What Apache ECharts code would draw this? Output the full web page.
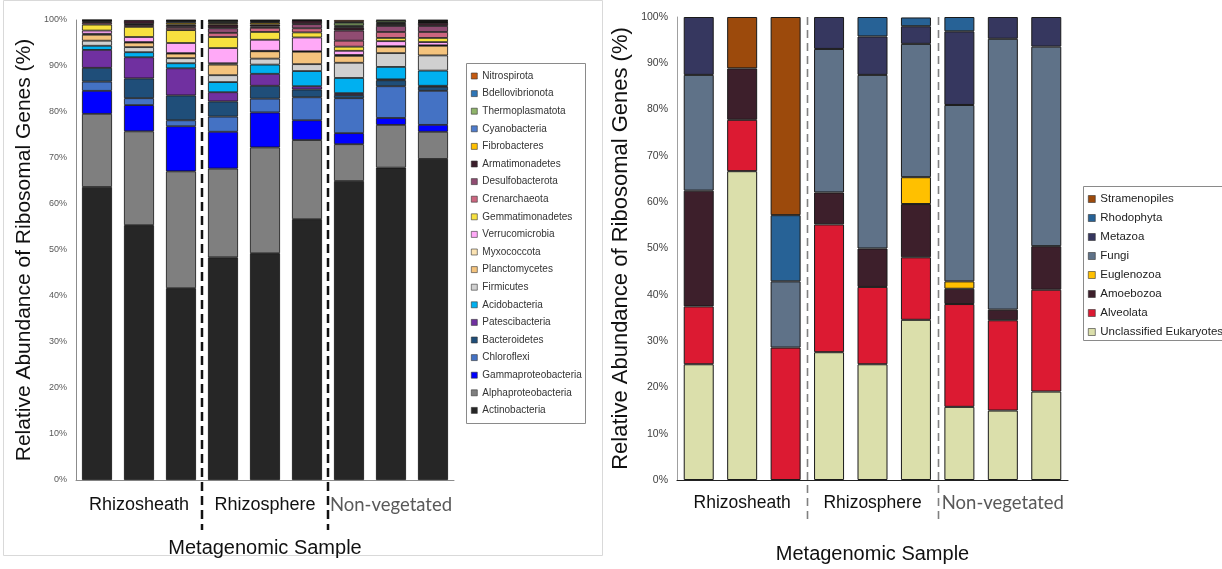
<!DOCTYPE html>
<html><head><meta charset="utf-8">
<script src="https://cdn.jsdelivr.net/npm/echarts@6/dist/echarts.min.js"></script>
<style>html,body{margin:0;padding:0;background:#fff}#c{width:1222px;height:569px}</style>
</head><body><div id="c"></div>
<script>
// ---------- DATA ----------
const categories = ['RS-1','RS-2','RS-3','RP-1','RP-2','RP-3','NV-1','NV-2','NV-3'];
const groupLabels = ['Rhizosheath','Rhizosphere','Non-vegetated'];
const yTickFormat = '{value}%';

// Bacteria / archaea (left panel), stacked bottom -> top
const bacteriaNames = ['Actinobacteria','Alphaproteobacteria','Gammaproteobacteria','Chloroflexi','Bacteroidetes','Patescibacteria','Acidobacteria','Firmicutes','Planctomycetes','Myxococcota','Verrucomicrobia','Gemmatimonadetes','Crenarchaeota','Desulfobacterota','Armatimonadetes','Fibrobacteres','Cyanobacteria','Thermoplasmatota','Bdellovibrionota','Nitrospirota'];
const actinobacteria      = [63.7, 55.4, 41.7, 48.4, 49.3, 56.7, 65.0, 67.9, 69.8];
const alphaproteobacteria = [15.9, 20.4, 25.4, 19.3, 23.0, 17.2, 8.0, 9.3, 5.9];
const gammaproteobacteria = [5.0, 5.7, 9.8, 8.0, 7.6, 4.3, 2.4, 1.5, 1.5];
const chloroflexi         = [2.0, 1.5, 1.3, 3.3, 3.0, 5.0, 7.6, 6.9, 7.4];
const bacteroidetes       = [3.0, 4.3, 5.4, 3.3, 2.8, 1.7, 0.7, 1.3, 0.9];
const patescibacteria     = [3.9, 4.6, 5.9, 2.0, 2.6, 0.7, 0.4, 0.2, 0.2];
const acidobacteria       = [0.9, 1.1, 1.1, 2.2, 2.0, 3.3, 3.3, 2.7, 3.3];
const firmicutes          = [1.1, 1.1, 1.1, 1.5, 1.3, 1.5, 3.3, 3.0, 3.3];
const planctomycetes      = [1.3, 1.0, 1.0, 2.3, 1.6, 2.7, 1.5, 1.4, 2.1];
const myxococcota         = [0.2, 0.1, 0.1, 0.3, 0.1, 0.1, 0.2, 0.1, 0.1];
const verrucomicrobia     = [0.7, 1.1, 2.2, 3.3, 2.4, 3.0, 0.9, 1.1, 0.7];
const gemmatimonadetes    = [1.3, 2.2, 2.8, 2.4, 1.7, 1.1, 0.9, 0.7, 0.9];
const crenarchaeota       = [0.4, 0.4, 0.5, 0.9, 0.9, 0.9, 1.3, 1.3, 1.3];
const desulfobacterota    = [0.2, 0.2, 0.4, 1.0, 0.3, 0.9, 2.2, 1.3, 1.3];
const armatimonadetes     = [0.3, 0.9, 0.3, 0.8, 0.4, 0.8, 0.7, 0.4, 0.7];
const fibrobacteres       = [0.05, 0, 0.4, 0.3, 0.4, 0.05, 0.2, 0.2, 0.1];
const cyanobacteria       = [0.05, 0, 0.3, 0.2, 0.2, 0.05, 0.2, 0.2, 0.1];
const thermoplasmatota    = [0, 0, 0.1, 0.3, 0.2, 0, 0.6, 0.4, 0.2];
const bdellovibrionota    = [0, 0, 0.1, 0.1, 0.1, 0, 0.2, 0.1, 0.1];
const nitrospirota        = [0, 0, 0.1, 0.1, 0.1, 0, 0.4, 0.1, 0.1];
const bacteriaValues = [actinobacteria, alphaproteobacteria, gammaproteobacteria, chloroflexi, bacteroidetes, patescibacteria, acidobacteria, firmicutes, planctomycetes, myxococcota, verrucomicrobia, gemmatimonadetes, crenarchaeota, desulfobacterota, armatimonadetes, fibrobacteres, cyanobacteria, thermoplasmatota, bdellovibrionota, nitrospirota];

// Eukaryotes (right panel), stacked bottom -> top
const eukNames = ['Unclassified Eukaryotes','Alveolata','Amoebozoa','Euglenozoa','Fungi','Metazoa','Rhodophyta','Stramenopiles'];
const unclassified  = [25.0, 66.7, 0, 27.6, 25.0, 34.6, 15.8, 15.0, 19.1];
const alveolata     = [12.5, 11.1, 28.6, 27.6, 16.7, 13.5, 22.2, 19.5, 22.0];
const amoebozoa     = [25.0, 11.1, 0, 6.9, 8.3, 11.5, 3.3, 2.3, 9.4];
const euglenozoa    = [0, 0, 0, 0, 0, 5.8, 1.6, 0, 0];
const fungi         = [25.0, 0, 14.3, 31.0, 37.5, 28.8, 38.1, 58.5, 43.1];
const metazoa       = [12.5, 0, 0, 6.9, 8.3, 3.8, 15.9, 4.7, 6.4];
const rhodophyta    = [0, 0, 14.3, 0, 4.2, 1.9, 3.1, 0, 0];
const stramenopiles = [0, 11.1, 42.8, 0, 0, 0, 0, 0, 0];
const eukValues = [unclassified, alveolata, amoebozoa, euglenozoa, fungi, metazoa, rhodophyta, stramenopiles];

// ---------- STYLE ----------
const bacteriaColors = ['#262626','#7f7f7f','#0000ff','#4472c4','#1f4e79','#7030a0','#00b0f0','#d0d0d0','#f4c37d','#fbe3b3','#ffa9f7','#f7e13f','#cc6680','#904c72','#3b1e2b','#ffc000','#4f7ccc','#8fb46a','#2e75b6','#c55a11'];
const eukColors = ['#dbdfab','#dc1a32','#3d1f2b','#ffc000','#5f7288','#36375f','#276296','#9c4a0c'];

const chart = echarts.init(document.getElementById('c'), null, {renderer:'canvas'});
const zeroToGap = v => v === 0 ? '-' : v;

function groupFormatter(value, index){
  if (index % 3 !== 1) return '';
  const g = Math.floor(index / 3);
  return g === 2 ? '{nv|' + groupLabels[g] + '}' : '{g|' + groupLabels[g] + '}';
}

const series = [];
bacteriaNames.forEach((n, i) => series.push({
  name: n, type: 'bar', stack: 'bac', xAxisIndex: 0, yAxisIndex: 0,
  barWidth: 30, data: bacteriaValues[i].map(zeroToGap),
  itemStyle: {color: bacteriaColors[i], borderColor: '#111', borderWidth: 0.8}
}));
eukNames.forEach((n, i) => series.push({
  name: n, type: 'bar', stack: 'euk', xAxisIndex: 1, yAxisIndex: 1,
  barWidth: 30, data: eukValues[i].map(zeroToGap),
  itemStyle: {color: eukColors[i], borderColor: '#1a1a1a', borderWidth: 1}
}));

const option = {
  animation: false,
  backgroundColor: '#fff',
  grid: [
    {left: 76, top: 20, width: 378, height: 460},
    {left: 677, top: 17, width: 391, height: 467}
  ],
  xAxis: [
    {type:'category', gridIndex:0, data:categories,
     axisTick:{show:false}, axisLine:{lineStyle:{color:'#8c8c8c', width:1}},
     axisLabel:{interval:0, margin:16, formatter:groupFormatter,
       rich:{g:{fontFamily:'Liberation Sans', fontSize:18, color:'#111'},
             nv:{fontFamily:'Lato', fontSize:18.5, color:'#595959'}}},
     name:'Metagenomic Sample', nameLocation:'middle', nameGap:58,
     nameTextStyle:{fontFamily:'Liberation Sans', fontSize:20, color:'#111'}},
    {type:'category', gridIndex:1, data:categories,
     axisTick:{show:false}, axisLine:{lineStyle:{color:'#222', width:1.2}},
     axisLabel:{interval:0, margin:14, formatter:groupFormatter,
       rich:{g:{fontFamily:'Liberation Sans', fontSize:17.5, color:'#111'},
             nv:{fontFamily:'Lato', fontSize:18.5, color:'#595959'}}},
     name:'Metagenomic Sample', nameLocation:'middle', nameGap:64,
     nameTextStyle:{fontFamily:'Liberation Sans', fontSize:20, color:'#111'}}
  ],
  yAxis: [
    {type:'value', gridIndex:0, min:0, max:100, interval:10,
     axisLine:{show:true, lineStyle:{color:'#8c8c8c'}}, axisTick:{show:false}, splitLine:{show:false},
     axisLabel:{formatter:yTickFormat, fontFamily:'Liberation Sans', fontSize:9, color:'#595959', margin:9},
     name:'Relative Abundance of Ribosomal Genes (%)', nameLocation:'middle', nameGap:41,
     nameTextStyle:{fontFamily:'Liberation Sans', fontSize:21, color:'#111'}},
    {type:'value', gridIndex:1, min:0, max:100, interval:10,
     axisLine:{show:true, lineStyle:{color:'#a0a0a0'}}, axisTick:{show:false}, splitLine:{show:false},
     axisLabel:{formatter:yTickFormat, fontFamily:'Liberation Sans', fontSize:10.5, color:'#404040', margin:9},
     name:'Relative Abundance of Ribosomal Genes (%)', nameLocation:'middle', nameGap:45,
     nameTextStyle:{fontFamily:'Liberation Sans', fontSize:22, color:'#111'}}
  ],
  legend: [
    {orient:'vertical', left:471, top:70.5, padding:0, itemGap:6.6, itemWidth:6, itemHeight:6,
     icon:'rect', selectedMode:false, data: bacteriaNames.slice().reverse(),
     itemStyle:{borderColor:'#333', borderWidth:0.6},
     textStyle:{fontFamily:'Liberation Sans', fontSize:10, color:'#333', lineHeight:11}},
    {orient:'vertical', left:1088, top:192.5, padding:0, itemGap:6, itemWidth:7, itemHeight:7,
     icon:'rect', selectedMode:false, data: eukNames.slice().reverse(),
     itemStyle:{borderColor:'#333', borderWidth:0.6},
     textStyle:{fontFamily:'Liberation Sans', fontSize:11.5, color:'#222', lineHeight:13}}
  ],
  series: series
};
chart.setOption(option);

// separators between sample groups, positioned from the category axis
function mid(axisIdx, a, b){
  const pa = chart.convertToPixel({xAxisIndex:axisIdx}, categories[a]);
  const pb = chart.convertToPixel({xAxisIndex:axisIdx}, categories[b]);
  return (pa + pb) / 2;
}
const topL = chart.convertToPixel({yAxisIndex:0}, 100);
const topR = chart.convertToPixel({yAxisIndex:1}, 100);
const gfx = [
  {type:'rect', shape:{x:3.5, y:0.5, width:599, height:555}, style:{fill:'none', stroke:'#d9d9d9', lineWidth:1}, z:-1},
  {type:'rect', shape:{x:466.5, y:63.5, width:119, height:360}, style:{fill:'none', stroke:'#8a8a8a', lineWidth:1}},
  {type:'rect', shape:{x:1083.5, y:186.5, width:145, height:154}, style:{fill:'none', stroke:'#8a8a8a', lineWidth:1}}
];
[[2,3],[5,6]].forEach(([a,b]) => {
  const xl = Math.round(mid(0,a,b));
  gfx.push({type:'line', shape:{x1:xl, y1:topL, x2:xl, y2:530}, style:{stroke:'#111', lineWidth:2.5, lineDash:[9,5]}, z:10});
  const xr = Math.round(mid(1,a,b)) + 0.5;
  gfx.push({type:'line', shape:{x1:xr, y1:topR, x2:xr, y2:522}, style:{stroke:'#808080', lineWidth:1.6, lineDash:[8,5]}, z:10});
});
chart.setOption({graphic: gfx});
</script>
</body></html>
